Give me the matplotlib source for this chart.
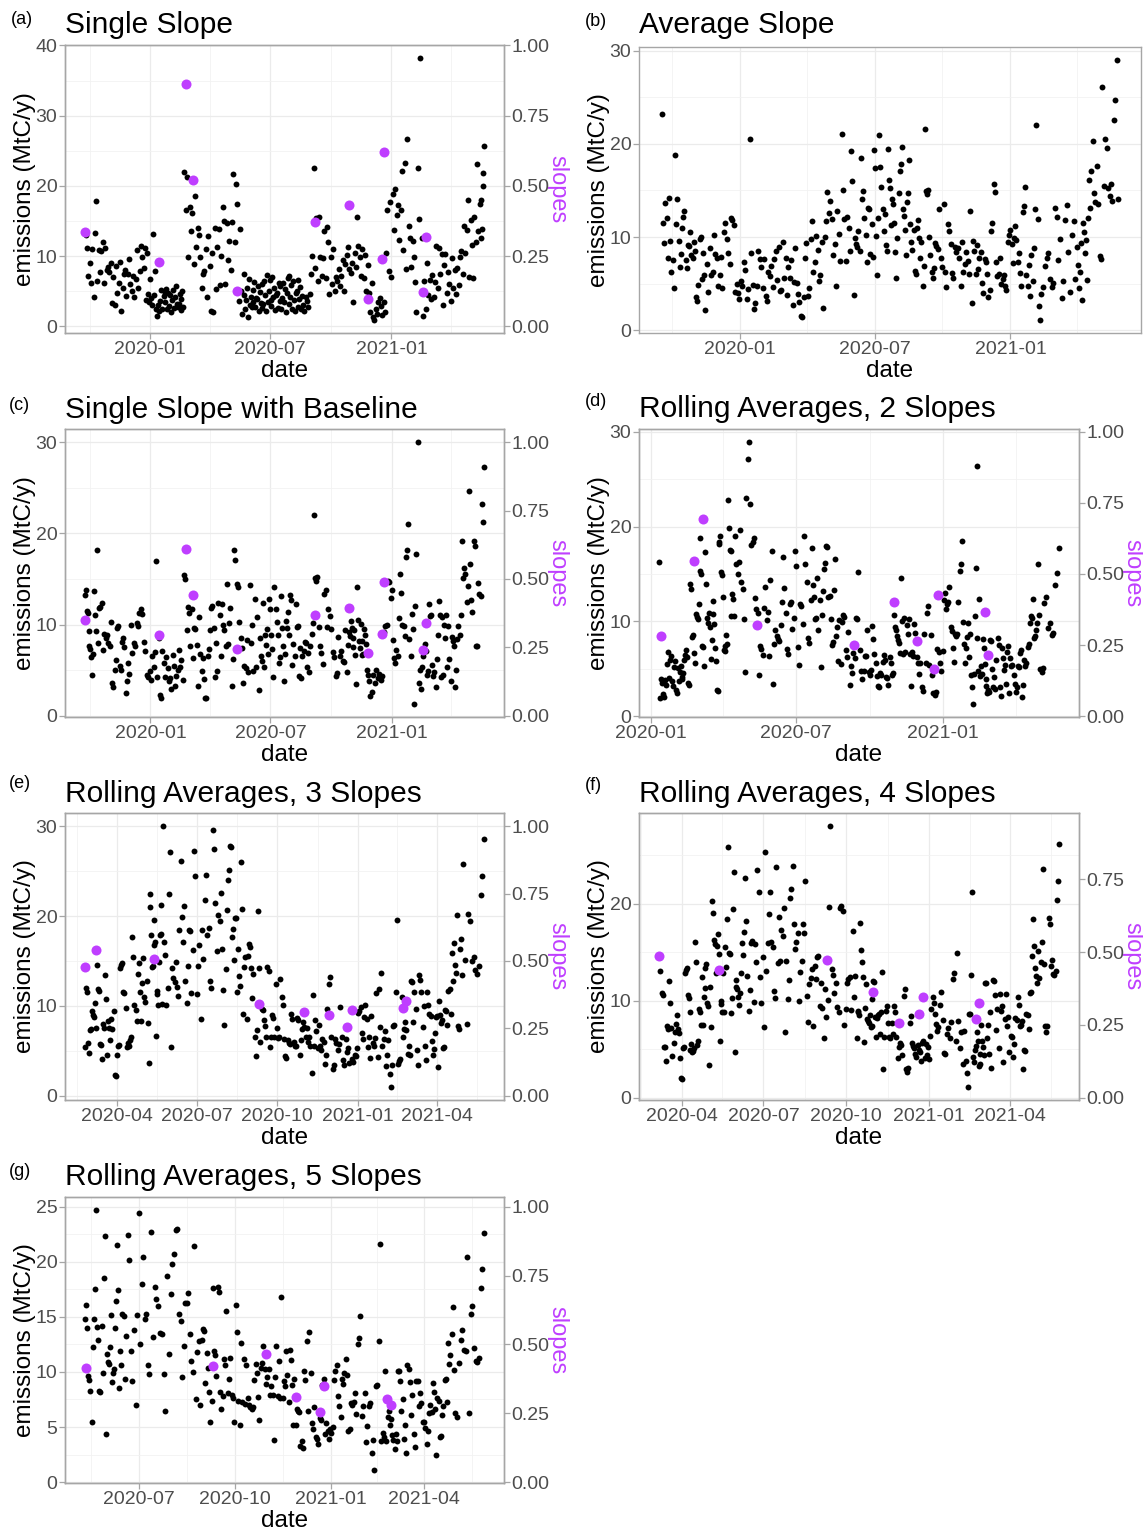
import numpy as np
import pandas as pd
import matplotlib
matplotlib.use('Agg')
import matplotlib.pyplot as plt
import matplotlib.dates as mdates
from matplotlib.ticker import MultipleLocator, FixedLocator, FormatStrFormatter, AutoMinorLocator

# ---------------- data ----------------
# each panel: reference date, bin edges (days from the reference), values per bin
# (a) Single Slope
a_ref = '2020-01-01'
a_edges = [-99, -69, -39, -9, 21, 51, 81, 111, 141, 171, 201, 231, 261, 291, 321, 351, 381, 411, 441, 471, 501, 507]
a_vals = [
    [13.0, 11.2, 7.2, 9.0, 6.1, 11.0, 4.2, 13.3, 17.8, 6.5, 10.8, 7.7, 10.7, 12.0, 6.2],
    [11.2, 8.0, 8.5, 7.7, 9.0, 3.3, 7.0, 3.0, 8.6, 4.7, 6.1, 9.2, 2.2, 5.5, 7.5],
    [8.0, 4.3, 7.5, 9.6, 6.0, 5.0, 7.2, 4.2, 6.7, 10.9, 5.5, 7.8, 11.5, 9.8, 8.3],
    [11.1, 3.8, 10.5, 4.6, 3.5, 6.7, 4.0, 3.0, 13.2, 4.5, 7.8, 2.5, 1.5, 3.0, 2.1, 3.6, 5.1, 2.4, 4.3],
    [4.8, 3.4, 5.3, 2.5, 4.7, 2.9, 4.4, 2.0, 3.8, 5.2, 2.6, 4.1, 5.7, 3.2, 2.8, 3.1, 4.6, 2.3, 3.9, 5.0, 2.7],
    [22.0, 16.5, 21.2, 9.8, 17.0, 13.5, 16.2, 8.8, 18.5, 11.3, 14.0, 13.0, 9.9, 5.5, 7.5],
    [7.8, 11.0, 4.2, 12.9, 8.6, 2.1, 10.4, 2.0, 14.0, 5.3, 11.3, 13.8, 5.9, 10.0, 17.0],
    [15.0, 6.0, 14.7, 9.5, 12.2, 8.0, 14.9, 21.7, 12.0, 20.3, 17.4, 3.6, 13.8, 5.0, 1.8],
    [4.5, 7.4, 2.5, 3.8, 5.5, 1.3, 6.7, 3.0, 4.2, 2.8, 5.2, 3.5, 6.3, 2.7, 4.0, 3.9, 5.8, 2.2, 4.9, 3.3, 6.0, 2.6],
    [3.2, 6.5, 4.5, 2.1, 7.3, 3.4, 5.0, 6.6, 3.8, 2.9, 7.0, 4.1, 5.5, 2.3, 4.4, 4.8, 2.6, 6.1, 3.6, 5.7, 2.5, 4.0],
    [6.2, 3.5, 5.3, 2.0, 4.7, 6.9, 3.1, 7.1, 4.2, 5.9, 2.5, 6.4, 3.7, 2.2, 4.8, 5.0, 2.8, 6.6, 3.9, 5.6, 2.4, 4.3],
    [3.0, 2.1, 4.1, 3.6, 2.8, 4.6, 7.4, 10.0, 22.5, 8.3, 15.4, 6.5, 15.5, 9.8, 7.1],
    [9.7, 13.5, 6.8, 14.2, 12.0, 4.6, 9.9, 6.0, 11.0, 5.0, 7.0, 6.5, 8.2, 5.8, 7.1],
    [9.5, 5.0, 8.8, 10.2, 11.3, 8.2, 7.6, 9.0, 3.5, 10.5, 8.5, 15.6, 11.4, 9.8, 7.2],
    [11.0, 6.9, 10.2, 5.0, 8.7, 4.8, 2.0, 6.1, 1.3, 0.9, 2.5, 1.8, 3.5, 4.0, 2.9],
    [1.6, 3.5, 2.0, 10.4, 16.5, 7.8, 17.7, 7.0, 18.8, 13.7, 19.6, 15.9, 17.3, 12.3, 16.6],
    [22.1, 10.9, 23.2, 8.1, 26.7, 14.3, 12.5, 8.5, 12.2, 9.9, 6.3, 2.0, 22.6, 15.3, 38.2],
    [12.6, 1.5, 6.5, 2.5, 9.0, 4.5, 6.6, 3.9, 7.3, 4.2, 6.3, 11.5, 5.4, 11.2, 7.5],
    [10.3, 3.0, 8.7, 10.3, 4.7, 7.7, 6.0, 3.6, 9.7, 5.4, 8.0, 4.6, 8.3, 5.9, 9.8],
    [10.7, 7.5, 14.3, 10.4, 13.7, 18.0, 7.0, 15.1, 11.6, 6.8, 15.5, 12.0, 23.1, 13.5, 17.4],
    [12.5, 18.0, 13.8, 20.0, 21.9, 25.7],
]
a_slope_dates = ['2019-09-24', '2020-01-14', '2020-02-24', '2020-03-06', '2020-05-12', '2020-09-07',
                 '2020-10-28', '2020-11-26', '2020-12-17', '2020-12-21', '2021-02-18', '2021-02-22']
a_slopes = [0.337, 0.23, 0.863, 0.52, 0.127, 0.372, 0.43, 0.098, 0.239, 0.62, 0.122, 0.317]

# (b) Average Slope
b_ref = '2020-01-01'
b_edges = [-107, -81, -48, 0, 53, 100, 148, 182, 234, 263, 311, 365, 407, 455, 478, 513]
b_vals = [
    [23.2, 11.5, 9.4, 13.7, 12.0, 7.7, 14.2, 9.6, 6.3, 7.5, 4.5, 18.8, 11.4, 14.1, 9.6, 6.8],
    [8.2, 11.0, 12.2, 12.8, 7.5, 6.7, 9.2, 9.0, 10.5, 8.1, 7.8, 9.5, 8.5, 3.6, 3.1, 4.9, 9.8, 10.0, 5.5, 8.3, 5.9],
    [2.2, 7.1, 4.1, 8.8, 5.9, 6.3, 10.2, 8.2, 7.7, 4.8, 5.9, 7.9, 4.5, 10.5, 11.5, 9.8, 8.3, 7.1, 12.0, 11.8,
     11.3, 4.1, 5.0, 4.0, 3.3],
    [5.3, 4.7, 7.3, 6.5, 3.4, 4.4, 20.5, 8.3, 4.9, 2.3, 2.9, 4.8, 8.5, 7.6, 6.8, 4.5, 7.6, 3.7, 3.1, 6.2,
     5.8, 6.9, 4.6, 7.6, 8.5, 5.4, 8.9],
    [4.2, 4.3, 9.5, 5.6, 7.7, 3.8, 6.8, 5.6, 7.5, 2.7, 5.2, 8.8, 5.1, 3.9, 3.0, 1.5, 1.4, 3.6, 7.8, 9.4,
     3.7, 4.5, 9.8, 11.7, 6.2],
    [7.3, 10.1, 8.6, 5.3, 5.9, 9.5, 2.4, 10.0, 11.7, 14.8, 12.6, 13.9, 11.9, 8.1, 9.3, 4.7, 12.8, 10.3, 7.4,
     21.1, 15.0, 11.9, 7.4, 12.2, 11.0],
    [8.5, 19.2, 16.0, 3.8, 9.9, 9.3, 8.9, 10.6, 8.5, 18.5, 14.1, 14.9, 12.0, 10.2, 7.3, 13.1, 13.0, 8.2, 11.4,
     7.9, 19.3],
    [17.4, 10.1, 5.9, 12.0, 20.9, 17.5, 15.4, 13.0, 10.7, 12.5, 9.1, 8.5, 19.5, 16.1, 15.3, 11.3, 14.1, 13.5,
     11.5, 8.4, 5.6, 9.9, 14.7, 17.1, 17.8, 19.7, 13.0, 12.3, 10.8, 8.1, 13.8, 14.7, 18.3, 11.4, 9.5, 8.6],
    [10.8, 6.4, 6.0, 11.0, 11.8, 9.9, 7.7, 9.5, 4.7, 6.9, 21.6, 14.9, 14.6, 15.0, 10.0, 8.1, 6.2, 5.6, 6.7],
    [9.4, 9.0, 8.7, 13.0, 7.8, 6.8, 13.6, 6.2, 4.6, 11.4, 10.6, 9.3, 6.1, 5.6, 8.9, 8.4, 8.8, 7.8, 4.8, 9.5,
     6.3, 7.1, 8.4, 7.4, 6.0],
    [12.8, 2.9, 9.6, 8.5, 6.0, 9.2, 6.6, 7.7, 8.4, 5.1, 4.0, 7.6, 7.3, 6.0, 3.6, 4.3, 10.7, 11.5, 15.7, 14.8,
     7.3, 5.8, 6.0, 7.8, 5.0, 5.5, 5.9, 4.8, 4.3, 9.5, 10.2],
    [10.8, 9.3, 7.2, 9.9, 11.2, 9.7, 7.3, 8.3, 6.1, 4.7, 12.7, 13.3, 15.4, 5.9, 4.8, 7.0, 3.7, 8.1, 5.3, 8.8,
     13.0, 22.0, 11.9, 2.6, 1.1],
    [3.9, 4.6, 6.9, 7.7, 8.3, 5.5, 4.6, 5.1, 13.1, 12.2, 7.5, 9.8, 3.5, 5.3, 11.8, 13.4, 8.4, 4.1, 10.2, 11.7, 5.5],
    [8.9, 7.0, 4.5, 6.3, 9.4, 3.2, 11.5, 10.5, 8.3, 9.7, 5.4, 12.0, 16.1, 13.1, 17.1, 20.3],
    [14.7, 13.8, 17.6, 13.6, 8.0, 7.6, 26.1, 15.5, 20.5, 19.6, 15.3, 14.4, 15.7, 13.9, 22.6, 24.7, 29.0, 14.1],
]

# (c) Single Slope with Baseline
c_ref = '2020-01-01'
c_edges = [-100, -81, -59, -31, 0, 50, 75, 126, 165, 221, 254, 299, 332, 360, 399, 422, 461, 507]
c_vals = [
    [13.2, 13.8, 11.5, 11.3, 9.3, 7.6, 7.3, 6.4, 4.5, 6.8, 13.7, 11.0, 9.3, 18.2],
    [8.0, 11.8, 11.9, 12.4, 7.2, 9.0, 8.5, 8.8, 8.0, 7.7, 10.3],
    [3.6, 3.2, 5.0, 6.1, 9.6, 9.8, 5.5, 5.0, 8.1, 8.5, 7.5, 2.5, 3.8, 5.8, 4.6],
    [9.9, 6.9, 8.0, 7.7, 10.2, 9.8, 11.3, 11.7, 11.2, 8.1, 7.1, 4.5, 4.2, 4.9],
    [3.9, 6.6, 5.3, 7.0, 17.0, 4.2, 8.5, 2.3, 1.9, 7.1, 5.8, 4.2, 6.4, 5.2, 3.8, 4.1, 2.9, 6.7, 5.5, 3.3,
     4.4, 5.0, 7.2, 5.3, 6.1, 3.9],
    [15.4, 15.0, 9.4, 11.9, 11.3, 7.6, 11.7, 6.3, 9.6, 9.5, 7.8, 3.3, 10.8],
    [6.8, 4.9, 6.3, 4.0, 2.0, 1.9, 6.6, 7.3, 9.4, 11.8, 12.0, 9.6, 4.2, 8.0, 4.9, 12.4, 11.0, 6.6, 12.3, 10.0,
     9.4, 7.7, 14.4, 7.9, 10.2, 11.8, 3.3, 6.2],
    [18.2, 17.1, 14.4, 14.1, 10.3, 8.5, 7.4, 3.6, 5.5, 5.2, 8.3, 4.8, 14.3, 8.0, 9.9, 4.9, 12.8, 5.4, 10.8, 2.8],
    [8.5, 6.5, 6.0, 12.4, 5.3, 8.8, 7.8, 9.5, 6.8, 12.8, 11.7, 8.8, 7.3, 4.2, 14.1, 11.7, 10.3, 8.9, 5.8, 6.4,
     13.1, 9.6, 7.7, 3.8, 6.8, 10.4, 9.6, 11.4, 8.8, 13.2, 12.7, 5.6, 7.9, 6.5, 12.2],
    [9.7, 9.8, 4.4, 7.4, 4.1, 6.6, 7.1, 8.1, 8.0, 5.3, 6.9, 4.8, 7.6, 9.0, 10.2, 22.0, 15.1, 14.8, 15.2],
    [9.7, 7.6, 6.9, 5.7, 13.3, 13.8, 9.7, 11.7, 10.9, 9.5, 7.0, 6.4, 4.4, 4.7, 8.6, 6.6, 7.1, 6.0, 5.9, 9.4, 4.8],
    [7.8, 9.2, 8.7, 10.4, 9.6, 8.5, 7.5, 9.4, 6.7, 3.5, 14.1, 10.5, 8.2, 7.4, 10.1, 8.2, 6.7, 6.8, 9.5, 8.8,
     7.9, 5.0, 4.5, 3.8],
    [2.2, 2.6, 4.5, 3.6, 5.0, 4.1, 4.6, 3.9, 4.4, 9.2, 9.8, 10.0],
    [14.8, 14.7, 12.9, 13.8, 8.3, 6.3, 5.8, 7.2, 6.5, 10.7, 15.5, 13.5, 10.0, 9.8, 8.7, 17.4, 18.2, 21.0, 8.4,
     6.5, 11.2, 9.5],
    [1.3, 12.0, 17.7, 30.0, 3.6, 5.0, 2.9, 5.3, 6.5, 7.9, 7.1, 4.5, 4.9],
    [12.3, 10.9, 11.0, 5.6, 4.4, 4.8, 3.1, 6.2, 8.8, 12.6, 11.1, 4.2, 10.8, 4.5, 10.0, 8.5, 11.1, 5.4, 9.8, 6.2,
     3.8, 8.6, 8.2, 7.7],
    [3.1, 5.0, 8.4, 9.8, 8.9, 11.1, 19.2, 15.1, 16.2, 15.5, 12.5, 14.2, 24.6, 16.6, 12.7, 11.4, 19.2, 18.6,
     7.6, 7.7, 14.6, 13.4, 13.1, 23.2, 21.2, 27.3],
]
c_slope_dates = a_slope_dates
c_slopes = [0.349, 0.296, 0.61, 0.44, 0.244, 0.367, 0.395, 0.228, 0.30, 0.488, 0.24, 0.338]

# (d) Rolling Averages, 2 Slopes
d_ref = '2020-01-01'
d_edges = [10, 31, 49, 76, 105, 130, 165, 201, 237, 272, 304, 335, 366, 397, 424, 460, 491, 512]
d_vals = [
    [16.3, 1.9, 3.9, 3.5, 2.3, 2.0, 3.8, 3.3, 5.5, 6.8, 4.0, 5.9, 6.3, 3.7, 3.2, 5.2, 5.8],
    [2.8, 2.5, 5.1, 3.7, 4.7, 5.3, 4.1, 3.9, 4.6, 5.9, 6.5, 7.0, 6.2, 3.5, 3.3],
    [13.9, 13.4, 8.4, 8.6, 6.7, 5.6, 10.8, 10.5, 10.2, 11.8, 18.8, 15.3, 15.0, 7.4, 7.3, 5.3, 17.3, 13.9,
     10.4, 9.8, 10.9, 9.4, 6.0],
    [8.0, 12.1, 10.8, 9.7, 7.2, 5.8, 2.8, 2.7, 18.2, 18.4, 19.0, 15.2, 14.9, 12.6, 7.0, 6.9, 7.4, 8.6, 7.6,
     22.8, 19.8, 17.5, 17.4, 10.6, 12.9, 12.4, 10.6],
    [19.0, 16.0, 15.0, 16.3, 19.6, 14.1, 13.4, 10.3, 4.7, 23.0, 27.1, 28.9, 22.4, 18.1, 18.4, 18.8],
    [12.5, 11.3, 10.9, 4.3, 7.4, 7.1, 6.5, 11.4, 13.6, 10.1, 11.0, 6.4, 14.4, 17.4, 3.4, 7.6, 9.1, 8.5, 8.1,
     7.9, 9.6, 12.0],
    [16.8, 13.5, 10.9, 7.1, 6.6, 11.8, 12.0, 9.2, 10.4, 17.4, 15.8, 7.3, 5.4, 11.8, 11.6, 9.7, 19.0, 16.0,
     14.1, 8.2, 7.7, 12.3],
    [17.7, 13.8, 12.6, 10.3, 10.4, 14.6, 9.1, 12.3, 5.2, 10.7, 13.2, 15.5, 16.2, 17.9, 17.8, 12.6, 12.7, 10.3,
     7.5, 7.8, 13.3, 16.6, 8.5, 9.4, 5.8, 10.1],
    [5.5, 9.9, 10.7, 10.5, 7.0, 6.2, 8.9, 3.3, 5.3, 4.6, 6.7, 6.1, 10.4, 10.3, 15.2, 7.0, 4.8, 3.9, 4.8, 6.4,
     6.3, 9.1],
    [4.7, 4.4, 4.9, 9.5, 8.1, 6.6, 5.6, 4.2, 3.2, 3.1, 4.6, 4.4, 5.7, 6.5, 5.9, 4.1, 4.0, 3.3, 6.2, 5.6, 4.4, 4.6],
    [10.7, 9.4, 9.1, 8.5, 8.0, 7.7, 6.7, 14.6, 10.0, 6.6, 10.4, 6.8, 9.6, 8.7, 10.3, 6.6, 3.2, 6.8, 6.4, 9.7,
     8.8, 7.9, 6.2, 5.6],
    [4.5, 5.6, 3.1, 2.7, 8.7, 5.6, 10.9, 11.6, 5.4, 8.6, 4.3, 2.4, 2.2, 2.6, 7.1, 6.8, 5.6, 4.8, 6.9],
    [12.3, 13.0, 11.3, 11.8, 12.0, 13.6, 9.4, 9.0, 7.2, 5.7, 8.7, 8.5, 8.7, 12.0, 15.3, 16.1, 18.5, 9.9, 7.6,
     5.6, 7.2, 8.4],
    [9.8, 6.2, 8.7, 4.4, 3.1, 1.3, 4.5, 10.6, 15.6, 26.4, 8.2, 4.8, 12.4, 4.2, 5.3, 4.5, 8.1, 7.2, 5.5, 3.9,
     3.2, 2.4, 2.8, 2.6],
    [8.0, 7.9, 5.0, 3.1, 4.1, 2.9, 5.9, 8.2, 7.5, 3.1, 2.1, 7.2, 6.1, 4.9, 5.4, 3.4, 6.8, 7.4, 2.4, 6.1, 5.3,
     5.4, 4.4, 3.4, 2.6, 3.1, 5.3],
    [5.2, 6.7, 7.0, 2.0, 3.3, 5.9, 5.3, 5.6, 7.3, 7.6, 9.8, 10.6, 10.4, 12.4, 8.2, 8.5, 9.1, 9.8, 16.0, 10.7,
     5.0, 4.7, 5.1],
    [11.9, 12.6, 9.3, 9.8, 8.6, 8.8, 13.8, 15.1, 17.7],
]
d_slope_dates = ['2020-01-14', '2020-02-24', '2020-03-07', '2020-05-13', '2020-09-11', '2020-10-31',
                 '2020-11-29', '2020-12-21', '2020-12-25', '2021-02-22', '2021-02-26']
d_slopes = [0.283, 0.546, 0.692, 0.322, 0.249, 0.40, 0.263, 0.166, 0.427, 0.368, 0.216]

# (e) Rolling Averages, 3 Slopes
e_ref = '2020-04-01'
e_edges = [-37, -18, 3, 37, 53, 87, 121, 146, 171, 205, 238, 272, 305, 331, 364, 394, 420]
e_vals = [
    [5.4, 12.0, 11.6, 5.9, 4.8, 7.3, 7.4, 9.4, 9.0, 8.8, 10.3, 7.5, 14.6, 11.9, 11.7, 5.8, 5.7],
    [4.1, 8.0, 7.6, 13.4, 10.8, 4.6, 8.3, 7.5, 6.2, 8.5, 7.4, 9.4, 2.3, 2.2, 4.5, 5.6, 5.7],
    [14.2, 14.6, 14.8, 11.6, 11.4, 9.8, 5.4, 5.9, 5.6, 6.2, 6.6, 17.7, 15.4, 10.1, 9.6, 8.3, 13.6, 14.8, 11.6,
     8.3, 12.5, 15.3, 11.0, 10.4, 12.8, 8.1, 3.7],
    [22.4, 21.0, 17.9, 14.3, 14.4, 16.8, 19.6, 17.1, 6.7, 11.7, 11.3, 10.1, 14.9, 17.9, 18.0, 21.2, 10.2, 30.0],
    [17.1, 15.7, 10.1, 12.0, 22.5, 27.1, 5.4, 14.2, 13.1, 12.7, 14.9, 12.1, 11.1, 18.4, 26.1, 19.9, 17.1, 21.1,
     12.8, 10.3, 14.4, 18.5, 18.3, 11.4, 16.2],
    [27.2, 24.5, 11.3, 14.4, 16.8, 8.5, 18.5, 15.2, 21.8, 24.6, 17.9, 18.7, 12.8, 12.0, 29.6, 27.5, 21.5, 16.1,
     20.1, 19.4, 22.6, 16.3],
    [11.8, 7.9, 14.1, 20.7, 24.0, 25.1, 27.8, 27.7, 17.7, 18.6, 15.1, 19.8, 19.8, 11.6, 16.3, 13.3, 12.2, 26.0,
     20.8, 9.1, 14.3],
    [15.4, 8.5, 15.6, 16.9, 16.6, 14.2, 10.9, 13.6, 6.5, 4.4, 7.3, 20.6, 14.2, 6.0, 9.7, 9.5, 8.4, 7.8, 6.6],
    [14.3, 13.9, 5.4, 6.5, 9.0, 8.7, 6.6, 12.4, 7.5, 6.4, 6.6, 13.0, 11.0, 10.1, 6.3, 4.4, 4.2, 6.2, 5.9, 5.8,
     9.1, 8.6, 6.0, 5.5, 5.6],
    [8.7, 8.4, 4.6, 6.2, 7.4, 8.2, 7.7, 6.5, 7.5, 6.0, 6.5, 5.5, 2.6, 11.2, 5.6, 8.4, 7.2, 5.3, 7.9, 5.5, 5.1,
     6.3, 6.0, 3.5],
    [4.5, 9.7, 12.4, 13.2, 6.5, 3.0, 3.4, 6.3, 5.9, 5.1, 5.8, 9.9, 6.6, 4.0, 3.4, 6.3, 4.9, 5.3, 3.7, 9.5, 4.1,
     3.8, 4.5],
    [4.4, 5.3, 9.2, 9.4, 9.9, 7.0, 6.3, 8.8, 10.1, 8.5, 5.4, 6.5, 4.2, 8.9, 5.9, 5.5, 6.4, 11.4, 4.3, 11.9,
     7.7, 13.7, 5.6, 6.3],
    [7.2, 3.3, 4.6, 6.2, 2.4, 1.0, 3.4, 7.8, 7.9, 11.6, 19.6, 3.5, 3.9, 4.1, 11.0, 6.5, 7.4, 8.2, 7.3],
    [4.7, 5.5, 4.6, 12.8, 12.7, 8.2, 11.6, 9.7, 5.1, 3.4, 13.4, 12.9, 11.5, 7.7, 10.0, 5.5, 4.0, 11.6, 10.1,
     9.1, 8.9, 6.1, 4.5, 5.2, 7.0],
    [8.8, 8.9, 3.2, 10.5, 9.0, 8.1, 8.4, 5.3, 5.4, 9.6, 9.4, 7.9, 11.7, 11.9, 9.1, 15.9, 12.8, 17.0, 14.5,
     13.7, 20.1, 7.8, 7.4, 16.3, 17.4, 13.4],
    [25.8, 15.1, 8.0, 20.2, 19.5, 15.0, 15.5, 14.0, 13.6, 14.4, 22.3, 24.4, 28.6],
]
e_slope_dates = ['2020-02-25', '2020-03-08', '2020-05-13', '2020-09-10', '2020-10-31', '2020-11-29',
                 '2020-12-20', '2020-12-25', '2021-02-21', '2021-02-25']
e_slopes = [0.477, 0.539, 0.506, 0.341, 0.311, 0.299, 0.256, 0.32, 0.325, 0.353]

# (f) Rolling Averages, 4 Slopes
f_ref = '2020-04-01'
f_edges = [-24, -1, 23, 47, 71, 102, 134, 166, 194, 222, 254, 286, 318, 341, 373, 397, 420]
f_vals = [
    [13.1, 10.8, 10.6, 5.2, 5.2, 3.8, 7.4, 7.1, 12.0, 9.8, 7.2, 4.3, 5.6, 6.8, 7.6, 8.5, 7.1, 6.7, 4.1],
    [2.0, 1.9, 5.1, 5.2, 12.8, 13.2, 13.4, 10.6, 10.3, 8.8, 4.9, 5.5, 4.7, 4.8, 5.1, 16.0, 14.0, 5.4, 5.8,
     9.1, 8.8, 7.5, 12.4],
    [7.5, 10.4, 13.4, 11.3, 13.8, 9.8, 9.4, 3.4, 11.4, 7.3, 20.3, 19.0, 16.2, 15.8, 12.8, 15.6, 16.9, 14.8,
     5.8, 10.0, 9.7, 8.8, 12.8],
    [8.8, 15.5, 13.5, 18.4, 25.8, 14.9, 14.8, 8.7, 10.3, 19.4, 23.3, 4.7, 12.1, 11.4, 11.2, 10.4, 9.6, 10.8,
     12.9, 15.9, 14.7, 17.1, 22.6],
    [18.2, 12.5, 8.9, 11.1, 15.9, 16.1, 9.9, 15.8, 14.0, 23.5, 21.2, 12.4, 9.8, 14.5, 7.3, 25.3, 13.1, 15.9,
     18.9, 21.2, 16.0, 15.5],
    [11.0, 10.3, 23.8, 13.9, 18.6, 14.1, 17.3, 16.7, 19.6, 6.8, 14.1, 10.2, 12.1, 20.6, 21.5, 23.9, 17.9,
     15.3, 16.0, 17.0, 10.0, 13.0, 14.1],
    [17.9, 17.0, 22.3, 10.5, 7.8, 11.7, 12.3, 13.3, 7.4, 13.6, 12.2, 14.5, 14.6, 9.4, 11.8, 9.2, 6.1, 11.2,
     8.3, 10.1, 19.7, 28.0],
    [13.3, 12.6, 10.8, 11.8, 9.3, 8.8, 19.5, 19.8, 19.2, 7.5, 9.1, 11.8, 12.2, 12.4, 9.0, 17.2, 10.4, 12.5],
    [6.1, 8.9, 8.8, 8.5, 18.0, 15.2, 14.0, 12.4, 5.7, 9.2, 11.7, 8.1, 7.9, 7.7, 8.5, 7.3, 7.4, 10.2, 12.0,
     11.9, 8.3, 6.3, 8.2, 8.5, 8.6, 6.6, 8.8],
    [13.0, 3.0, 6.2, 8.9, 9.4, 7.7, 6.2, 6.1, 7.7, 6.6, 9.4, 8.8, 6.2, 4.1, 5.2, 5.6, 5.4, 4.4, 10.5, 11.2,
     2.9, 2.6, 3.1, 7.7],
    [8.4, 5.6, 5.3, 5.1, 4.5, 4.2, 5.4, 4.9, 4.7, 3.8, 5.6, 5.8, 4.1, 5.5, 4.4, 5.2, 4.0, 6.4, 9.1, 10.4, 9.8,
     8.6, 7.6, 6.9, 7.3],
    [9.6, 10.9, 8.0, 4.6, 4.5, 6.6, 7.2, 6.1, 7.8, 12.2, 12.9, 5.8, 14.9, 7.9, 5.1, 6.8, 3.5, 6.9, 3.8, 2.5],
    [1.1, 8.6, 8.6, 12.6, 21.2, 4.2, 3.7, 4.9, 5.3, 6.8, 5.8, 3.3, 4.5, 3.5, 7.5, 5.8, 5.2, 4.4, 11.8, 11.8,
     6.1, 7.5],
    [4.5, 8.8, 3.1, 12.1, 12.0, 10.6, 7.0, 9.1, 5.1, 10.7, 8.9, 9.4, 3.7, 8.1, 10.7, 7.4, 8.3, 4.7, 6.4, 6.3,
     4.2, 5.5, 8.2, 8.0],
    [10.4, 9.6, 7.4, 7.5, 7.9, 2.9, 4.9, 4.8, 8.6, 8.5, 7.1, 10.8, 10.9, 14.6, 18.4, 15.6, 13.4, 12.5, 11.8, 15.1],
    [12.3, 14.0, 16.0, 23.6, 13.8, 7.4, 6.8, 7.4, 18.5, 17.9, 13.6, 14.2, 12.7, 12.6, 13.1, 20.4, 22.3, 26.2],
]
f_slope_dates = ['2020-03-07', '2020-05-13', '2020-09-10', '2020-10-31', '2020-11-29', '2020-12-21',
                 '2020-12-25', '2021-02-22', '2021-02-26']
f_slopes = [0.488, 0.437, 0.472, 0.364, 0.256, 0.286, 0.347, 0.269, 0.324]

# (g) Rolling Averages, 5 Slopes
g_ref = '2020-07-01'
g_edges = [-52, -35, -14, 11, 35, 60, 81, 109, 134, 158, 183, 208, 236, 257, 278, 303, 332]
g_vals = [
    [14.8, 16.1, 14.0, 9.6, 9.3, 8.3, 5.5, 12.3, 14.8, 17.5, 24.7, 14.1, 12.9, 8.3, 8.2, 14.2],
    [9.9, 18.5, 22.3, 4.4, 11.6, 10.9, 10.7, 12.3, 15.2, 9.1, 9.9, 10.3, 14.0, 16.4, 21.5, 17.4, 8.5, 11.9,
     10.6, 15.3, 15.1],
    [9.4, 13.3, 22.4, 20.2, 11.9, 9.2, 13.8, 7.0, 15.2, 24.4, 12.5, 18.0, 20.4, 14.8, 15.3, 10.6, 9.8],
    [22.7, 13.2, 17.7, 16.6, 16.0, 13.5, 13.4, 9.8, 6.5, 18.7, 11.6, 17.1, 19.8, 20.7],
    [22.9, 23.0, 15.3, 14.6, 9.5, 12.4, 16.3, 16.3, 17.2, 13.4, 11.0, 10.0, 21.4, 7.5, 11.8, 12.8, 7.0],
    [12.9, 13.9, 13.7, 9.0, 11.7, 10.4, 8.2, 5.5, 7.4, 17.6, 11.9, 11.5, 9.6, 17.7, 17.3, 8.2, 6.6, 7.8],
    [11.2, 10.6, 15.5, 8.1, 9.4, 11.3, 7.9, 7.6, 5.5, 16.1, 13.6, 7.4, 5.2, 12.6, 7.3, 11.2, 7.1, 10.6, 7.6,
     7.0, 6.8, 6.6],
    [6.8, 9.3, 10.7, 9.9, 7.7, 5.6, 10.4, 10.8, 12.4, 10.3, 8.9, 9.5, 10.3, 7.9, 8.7, 7.9, 3.8, 9.5, 12.4, 7.8],
    [11.0, 7.6, 16.8, 7.6, 9.2, 8.7, 11.9, 9.7, 7.3, 12.0, 11.1, 8.8, 5.2, 9.4, 5.2, 6.6, 6.5, 6.4, 3.3, 3.7, 3.1],
    [10.1, 9.3, 12.8, 6.5, 13.6, 9.9, 5.4, 4.8, 6.8, 4.1, 3.9, 3.5, 5.8, 5.6, 8.8, 9.4, 4.4, 5.4, 4.6, 3.9],
    [4.8, 4.5, 5.0, 9.3, 10.1, 10.6, 7.8, 6.9, 5.9, 9.4, 8.9, 9.9, 11.2, 9.7, 4.6, 4.8, 7.2, 7.0, 7.3, 8.1],
    [6.2, 12.5, 13.1, 15.1, 6.0, 6.9, 8.1, 3.6, 5.1, 6.9, 7.2, 2.6, 3.8, 1.1, 8.7, 8.8, 12.8, 21.6, 3.7, 4.5, 4.1],
    [10.1, 3.7, 5.9, 6.5, 5.2, 5.7, 4.3, 3.8, 3.0, 4.4, 3.7, 10.1, 10.1, 9.2, 6.5, 7.5, 3.9, 5.2, 2.6],
    [10.6, 10.3, 9.1, 6.1, 7.9, 4.4, 3.2, 9.2, 9.2, 6.9, 8.1, 7.2, 5.5, 5.5, 4.9, 3.5, 4.6],
    [6.3, 7.0, 6.4, 9.0, 8.2, 6.6, 2.5, 7.6, 7.4, 4.1, 4.2, 6.1, 6.9, 9.3, 9.4, 7.3, 12.6, 10.7, 11.5, 13.4,
     15.9, 10.2],
    [6.3, 5.9, 10.8, 12.9, 13.8, 12.0, 11.9, 20.4, 6.3, 15.3, 16.0, 12.2, 11.0, 10.9, 11.3, 17.6, 19.3, 22.6],
]
g_slope_dates = ['2020-05-12', '2020-09-10', '2020-10-31', '2020-11-29', '2020-12-22', '2020-12-26',
                 '2021-02-24', '2021-02-28']
g_slopes = [0.416, 0.4225, 0.464, 0.31, 0.254, 0.35, 0.301, 0.279]

# ---------------- drawing ----------------
PURPLE = '#BF3EFF'
EDGE = '#A6A6A6'
W, H = 1143, 1532
plt.rcParams['font.family'] = ['Liberation Sans', 'DejaVu Sans']

fig = plt.figure(figsize=(W / 100, H / 100), dpi=100)


def spread(ref, edges, groups):
    # place the values of each bin evenly inside the bin
    days, vals = [], []
    for lo, hi, g in zip(edges[:-1], edges[1:], groups):
        step = (hi - lo) / len(g)
        for i, v in enumerate(g):
            days.append(lo + (i + 0.5) * step)
            vals.append(v)
    dates = pd.Timestamp(ref) + pd.to_timedelta(days, unit='D')
    return mdates.date2num(dates), np.array(vals)


def style_ticks(a):
    a.tick_params(which='major', length=4, width=0.9, color=EDGE, labelcolor='#4D4D4D',
                  labelsize=14, pad=1.5)
    for sp in a.spines.values():
        sp.set_color(EDGE)
        sp.set_linewidth(1.0)


def panel(box, tag, tag_xy, title, title_y, ref, edges, groups, sl_dates, sl_vals, scale, months, ystep):
    l, t, r, b = box
    ax = fig.add_axes([l / W, 1 - b / H, (r - l) / W, (b - t) / H])
    x, y = spread(ref, edges, groups)
    ax.scatter(x, y, s=18, c='black', linewidths=0, zorder=3)
    allx, ally = list(x), list(y)
    if sl_dates is not None:
        sx = mdates.date2num(pd.to_datetime(sl_dates))
        sy = np.array(sl_vals) * scale
        ax.scatter(sx, sy, s=52, c=PURPLE, linewidths=0, zorder=4)
        allx += list(sx)
        ally += list(sy)
    x0, x1 = min(allx), max(allx)
    y0, y1 = min(ally), max(ally)
    xl = (x0 - 0.05 * (x1 - x0), x1 + 0.05 * (x1 - x0))
    yl = (y0 - 0.05 * (y1 - y0), y1 + 0.05 * (y1 - y0))

    majors = mdates.date2num(pd.date_range('2019-01-01', '2022-01-01', freq=f'{months}MS'))
    minors = (majors[:-1] + majors[1:]) / 2
    ax.xaxis.set_major_locator(FixedLocator(majors))
    ax.xaxis.set_minor_locator(FixedLocator(minors))
    ax.xaxis.set_major_formatter(mdates.DateFormatter('%Y-%m'))
    ax.yaxis.set_major_locator(MultipleLocator(ystep))
    ax.yaxis.set_minor_locator(AutoMinorLocator(2))
    ax.set_xlim(xl)
    ax.set_ylim(yl)

    ax.set_axisbelow(True)
    ax.grid(which='major', color='#EBEBEB', lw=0.9)
    ax.grid(which='minor', color='#F2F2F2', lw=0.6)
    style_ticks(ax)
    ax.tick_params(which='minor', length=0)
    ax.set_xlabel('date', fontsize=17.5, labelpad=1.5)
    ax.set_ylabel('emissions (MtC/y)', fontsize=17.5, labelpad=-0.5)

    if sl_dates is not None:
        ax2 = ax.twinx()
        ax2.set_ylim(yl[0] / scale, yl[1] / scale)
        ax2.yaxis.set_major_locator(MultipleLocator(0.25))
        ax2.yaxis.set_major_formatter(FormatStrFormatter('%.2f'))
        style_ticks(ax2)
        ax2.set_ylabel('slopes', color=PURPLE, fontsize=17, rotation=270, va='bottom', labelpad=-2.5)

    fig.text(tag_xy[0] / W, 1 - tag_xy[1] / H, tag, fontsize=13, ha='left', va='center')
    fig.text(l / W, 1 - title_y / H, title, fontsize=21.5, ha='left', va='baseline')
    return ax


panel((65, 45, 504, 333), '(a)', (11, 20), 'Single Slope', 33,
      a_ref, a_edges, a_vals, a_slope_dates, a_slopes, 40, 6, 10)
panel((639, 47, 1141, 333), '(b)', (585, 21), 'Average Slope', 33,
      b_ref, b_edges, b_vals, None, None, 1, 6, 10)
panel((65, 429, 504, 717), '(c)', (9, 406), 'Single Slope with Baseline', 418,
      c_ref, c_edges, c_vals, c_slope_dates, c_slopes, 30, 6, 10)
panel((639, 429, 1079, 717), '(d)', (585, 402), 'Rolling Averages, 2 Slopes', 417,
      d_ref, d_edges, d_vals, d_slope_dates, d_slopes, 30, 6, 10)
panel((65, 813, 504, 1100), '(e)', (9, 784), 'Rolling Averages, 3 Slopes', 802,
      e_ref, e_edges, e_vals, e_slope_dates, e_slopes, 30, 3, 10)
panel((639, 813, 1079, 1100), '(f)', (585, 785), 'Rolling Averages, 4 Slopes', 802,
      f_ref, f_edges, f_vals, f_slope_dates, f_slopes, 30, 3, 10)
panel((65, 1197, 504, 1483), '(g)', (9, 1172), 'Rolling Averages, 5 Slopes', 1185,
      g_ref, g_edges, g_vals, g_slope_dates, g_slopes, 25, 3, 5)

fig.savefig('out.png', dpi=100)
